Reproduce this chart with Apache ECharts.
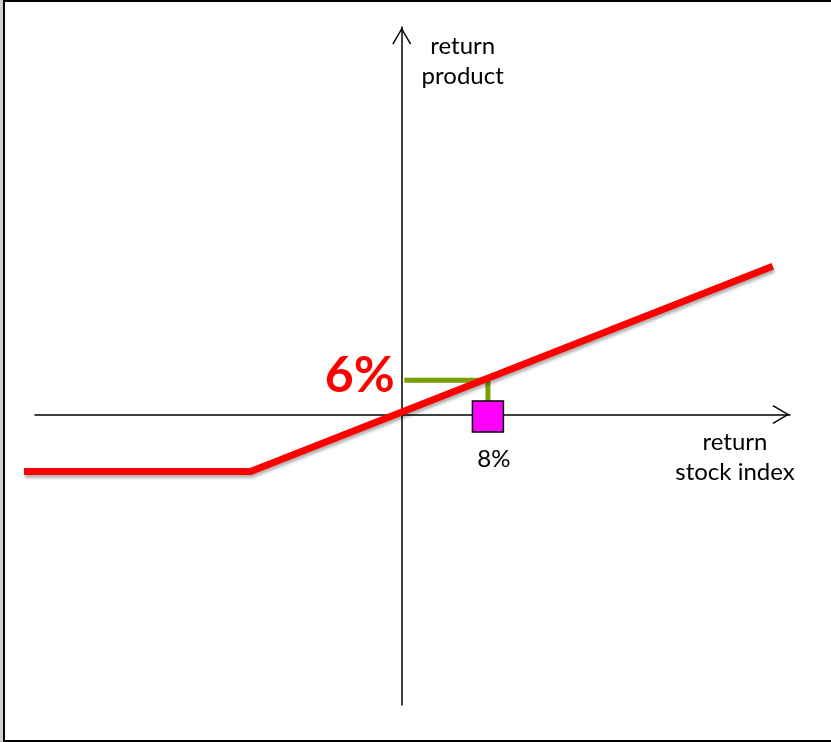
<!DOCTYPE html>
<html>
<head>
<meta charset="utf-8">
<script src="https://cdn.jsdelivr.net/npm/echarts@6/dist/echarts.min.js"></script>
<style>
  html, body { margin: 0; padding: 0; background: #fff; }
  #chart { width: 831px; height: 742px; }
</style>
</head>
<body>
<div id="chart"></div>
<script>
// Payoff of the product versus the stock index return (in %)
const payoffX = [-35, -14, 34.4];
const payoffY = [-10, -10, 26];
// Guide marking the 6% product return reached at an 8% index return
const guideX = [0.25, 8, 8];
const guideY = [6, 6, 0];
const markerPoint = [8, 0];
const xTitle = 'return\nstock index';
const yTitle = 'return\nproduct';

// Plot area holding the marks (wider on the left so the payoff line can start before the axis)
const dataXRange = [-35, 36];
// Visible crossing axes
const axisXRange = [-34, 36];
const yRange = [-51, 68];

const FONT = 'Lato, "Open Sans", sans-serif';
const TEXT_SIZE = 24;
// Open chevron arrow head, pointing up
const CHEVRON = 'path://M10,0 L20,17 L18.7,17.8 L10,2.9 L1.3,17.8 L0,17 Z';

const zip = (xs, ys) => xs.map((x, i) => [x, ys[i]]);

const hiddenParts = {
  axisTick: { show: false },
  axisLabel: { show: false },
  splitLine: { show: false }
};

const arrowLine = {
  show: true,
  onZero: true,
  symbol: ['none', CHEVRON],
  symbolSize: [19, 18],
  symbolOffset: [0, -9],
  lineStyle: { color: '#000', width: 1.5 }
};

const chart = echarts.init(document.getElementById('chart'), null, { renderer: 'canvas' });

chart.setOption({
  animation: false,
  backgroundColor: '#fff',
  grid: [
    { left: 24, right: 41, top: 27, bottom: 37, containLabel: false, outerBoundsMode: 'none' },
    { left: 35, right: 41, top: 27, bottom: 37, containLabel: false, outerBoundsMode: 'none' }
  ],
  xAxis: [
    Object.assign({ type: 'value', gridIndex: 0, min: dataXRange[0], max: dataXRange[1],
      axisLine: { show: false } }, hiddenParts),
    Object.assign({
      type: 'value', gridIndex: 1, min: axisXRange[0], max: axisXRange[1],
      axisLine: arrowLine,
      name: xTitle,
      nameLocation: 'end',
      nameGap: -55,
      nameMoveOverlap: false,
      nameTextStyle: {
        fontFamily: FONT, fontSize: TEXT_SIZE, color: '#000', lineHeight: 30,
        align: 'center', verticalAlign: 'top', padding: [13, 0, 0, 0]
      }
    }, hiddenParts)
  ],
  yAxis: [
    Object.assign({ type: 'value', gridIndex: 0, min: yRange[0], max: yRange[1],
      axisLine: { show: false } }, hiddenParts),
    Object.assign({
      type: 'value', gridIndex: 1, min: yRange[0], max: yRange[1],
      axisLine: arrowLine,
      name: yTitle,
      nameLocation: 'end',
      nameGap: -34,
      nameMoveOverlap: false,
      nameTextStyle: {
        fontFamily: FONT, fontSize: TEXT_SIZE, color: '#000', lineHeight: 30,
        align: 'center', verticalAlign: 'middle', padding: [0, 0, 0, 122]
      }
    }, hiddenParts)
  ],
  graphic: [
    { type: 'rect', z: 100, silent: true,
      shape: { x: 0, y: 0, width: 3, height: 742 },
      style: { fill: '#cfcfcf' } },
    { type: 'rect', z: 100, silent: true,
      shape: { x: 4, y: 1, width: 840, height: 740 },
      style: { fill: null, stroke: '#000', lineWidth: 2 } }
  ],
  series: [
    {
      type: 'line',
      xAxisIndex: 0, yAxisIndex: 0,
      data: zip(guideX, guideY),
      symbol: 'none',
      z: 2,
      lineStyle: { color: '#77a000', width: 5, cap: 'butt', join: 'miter' }
    },
    {
      // value label at the start of the guide
      type: 'scatter',
      xAxisIndex: 0, yAxisIndex: 0,
      data: [[guideX[0], guideY[0]]],
      symbolSize: 1,
      z: 5,
      itemStyle: { color: 'rgba(0,0,0,0)', opacity: 1 },
      label: {
        show: true,
        position: 'left',
        distance: 9,
        offset: [0, -4],
        formatter: (d) => d.value[1] + '%',
        color: '#ff0000',
        opacity: 1,
        fontFamily: FONT,
        fontWeight: 'bold',
        fontSize: 50
      }
    },
    {
      type: 'line',
      xAxisIndex: 0, yAxisIndex: 0,
      data: zip(payoffX, payoffY),
      symbol: 'none',
      z: 3,
      lineStyle: {
        color: '#ff0000', width: 7, cap: 'butt', join: 'miter',
        shadowColor: 'rgba(0,0,0,0.3)', shadowBlur: 3, shadowOffsetX: 1, shadowOffsetY: 3
      }
    },
    {
      type: 'scatter',
      xAxisIndex: 0, yAxisIndex: 0,
      data: [markerPoint],
      symbol: 'rect',
      symbolSize: 31,
      symbolOffset: [0, 2],
      z: 4,
      itemStyle: { color: '#ff00ff', borderColor: '#000', borderWidth: 1.5, opacity: 1 },
      label: {
        show: true,
        position: 'bottom',
        distance: 15,
        offset: [6, 0],
        formatter: (d) => d.value[0] + '%',
        fontFamily: FONT, fontSize: TEXT_SIZE, color: '#000'
      }
    }
  ]
});
</script>
</body>
</html>
